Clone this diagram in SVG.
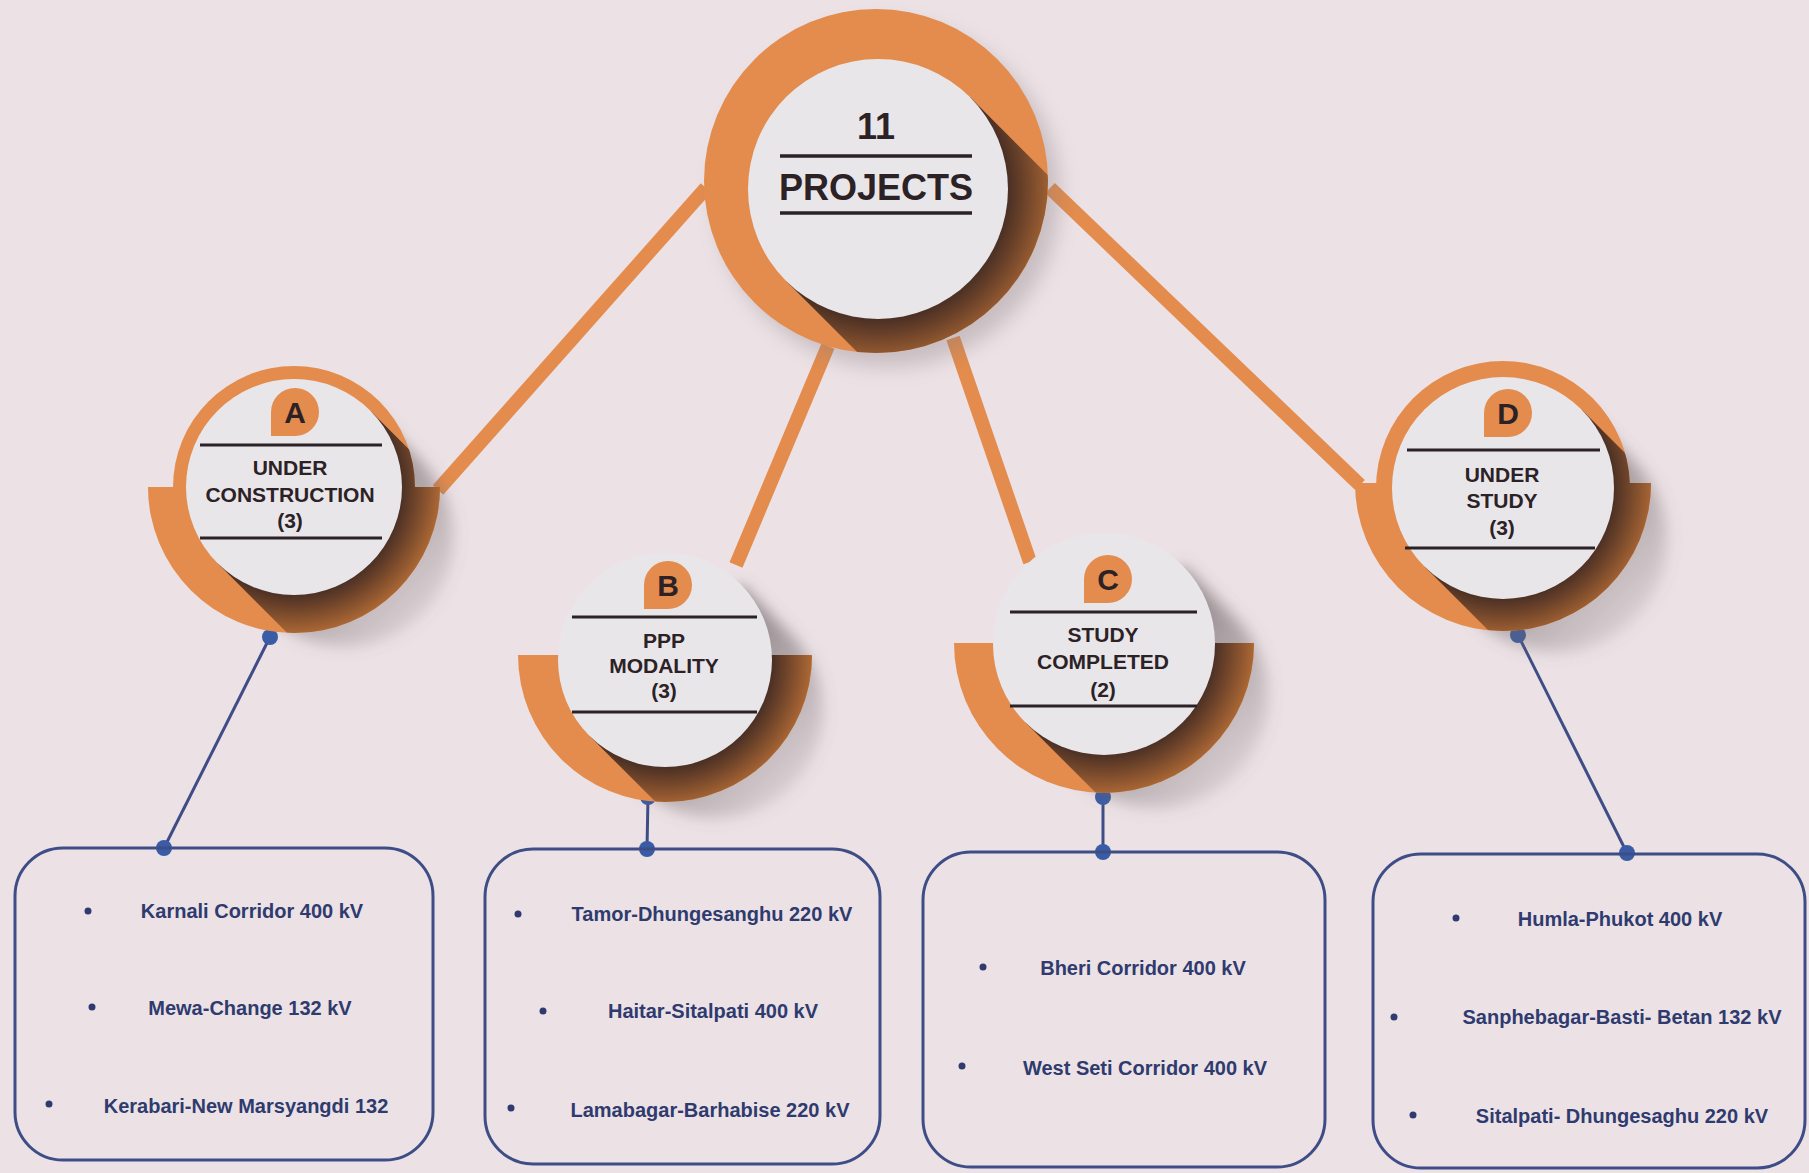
<svg xmlns="http://www.w3.org/2000/svg" xmlns:xlink="http://www.w3.org/1999/xlink" width="1809" height="1173" viewBox="0 0 1809 1173">
<style>
.org{fill:#e38c4d}
.disc{fill:#e9e6ea}
.rule{stroke:#2c2226;stroke-width:3}
.lbl{font-family:"Liberation Sans",Arial,sans-serif;font-weight:bold;fill:#2c2226;text-anchor:middle;font-size:21px}
.big{font-family:"Liberation Sans",Arial,sans-serif;font-weight:bold;fill:#2c2226;text-anchor:middle;font-size:36px}
.let{font-family:"Liberation Sans",Arial,sans-serif;font-weight:bold;fill:#2c2226;text-anchor:middle;font-size:30px}
.item{font-family:"Liberation Sans",Arial,sans-serif;font-weight:bold;fill:#2f3b6e;text-anchor:middle;font-size:20px}
.bul{fill:#2f3b6e}
.box{fill:none;stroke:#3e4d86;stroke-width:3}
.oline{stroke:#e38c4d;stroke-width:14;fill:none}
.bline{stroke:#3e4d86;stroke-width:3;fill:none}
.dot{fill:#3a5ca6}
.gsh{fill:url(#gsh);filter:url(#blur)}
.bsh{fill:url(#rsh)}
</style>
<defs>
<filter id="blur" x="-30%" y="-30%" width="160%" height="160%"><feGaussianBlur stdDeviation="7"/></filter>
<filter id="blur2" x="-30%" y="-30%" width="160%" height="160%"><feGaussianBlur stdDeviation="10"/></filter>
<linearGradient id="gsh" x1="0" y1="0" x2="1" y2="1"><stop offset="0.4" stop-color="#6e6466" stop-opacity="0.7"/><stop offset="1" stop-color="#6e6466" stop-opacity="0"/></linearGradient>
<radialGradient id="rsh" cx="0.5" cy="0.5" r="0.5"><stop offset="0.7" stop-color="#452d24"/><stop offset="0.8" stop-color="#6a4129"/><stop offset="1" stop-color="#b56d36"/></radialGradient>
<path id="capL" d="M70.71,-70.71 L210.71,69.29 A100,100 0 0 1 69.29,210.71 L-70.71,70.71 Z"/>
<path id="capS" d="M70.71,-70.71 L118.71,-22.71 A100,100 0 0 1 -22.71,118.71 L-70.71,70.71 Z"/>
<clipPath id="cP"><circle cx="-2" cy="-8" r="172"/></clipPath>
<clipPath id="kP"><use href="#capL" transform="scale(1.3)"/></clipPath>
<clipPath id="cA"><circle r="121"/><path d="M-146,0 A146,146 0 0 0 146,0 Z"/></clipPath>
<clipPath id="kA"><use href="#capL" transform="scale(1.08)"/></clipPath>
<clipPath id="cB"><path d="M-147,-5 A147,147 0 0 0 147,-5 Z"/></clipPath>
<clipPath id="kB"><use href="#capL" transform="scale(1.07)"/></clipPath>
<clipPath id="cC"><path d="M-150,-1 A150,150 0 0 0 150,-1 Z"/></clipPath>
<clipPath id="kC"><use href="#capL" transform="scale(1.11)"/></clipPath>
<clipPath id="cD"><circle r="127"/><path d="M-148,-5 A148,148 0 0 0 148,-5 Z"/></clipPath>
<clipPath id="kD"><use href="#capL" transform="scale(1.11)"/></clipPath>
</defs>
<rect width="1809" height="1173" fill="#ece2e6"/>

<g id="connectors">
<line class="oline" x1="706" y1="188" x2="438" y2="490"/>
<line class="oline" x1="828" y1="346" x2="736" y2="565"/>
<line class="oline" x1="953" y1="338" x2="1030" y2="562"/>
<line class="oline" x1="1050" y1="188" x2="1360" y2="485"/>
<line class="bline" x1="270" y1="637" x2="164" y2="848"/>
<line class="bline" x1="648" y1="797" x2="647" y2="849"/>
<line class="bline" x1="1103" y1="797" x2="1103" y2="852"/>
<line class="bline" x1="1518" y1="635" x2="1627" y2="853"/>
<circle class="dot" cx="270" cy="637" r="8"/>
<circle class="dot" cx="164" cy="848" r="8"/>
<circle class="dot" cx="648" cy="797" r="8"/>
<circle class="dot" cx="647" cy="849" r="8"/>
<circle class="dot" cx="1103" cy="797" r="8"/>
<circle class="dot" cx="1103" cy="852" r="8"/>
<circle class="dot" cx="1518" cy="635" r="8"/>
<circle class="dot" cx="1627" cy="853" r="8"/>
</g>

<g id="node-projects">
<g transform="translate(878,189)">
<circle cx="10" cy="6" r="172" fill="#857a7c" opacity="0.35" filter="url(#blur2)"/>
<circle class="org" cx="-2" cy="-8" r="172"/>
<g clip-path="url(#cP)"><g clip-path="url(#kP)"><circle r="182" class="bsh"/></g></g>
<circle class="disc" r="130"/>
</g>
<text class="big" x="876" y="139">11</text>
<line class="rule" x1="780" y1="156" x2="972" y2="156" style="stroke-width:3.5"/>
<text class="big" x="876" y="200">PROJECTS</text>
<line class="rule" x1="780" y1="213" x2="972" y2="213" style="stroke-width:3.5"/>
</g>

<g id="node-a">
<g transform="translate(294,487)">
<use href="#capS" class="gsh" transform="scale(1.08)"/>
<circle class="org" r="121"/>
<path class="org" d="M-146,0 A146,146 0 0 0 146,0 Z"/>
<g clip-path="url(#cA)"><g clip-path="url(#kA)"><circle r="150" class="bsh"/></g></g>
<circle class="disc" r="108"/>
</g>
<path class="org" d="M271,412 A24,24 0 1 1 295,436 L271,436 Z"/>
<text class="let" x="295" y="423">A</text>
<line class="rule" x1="200" y1="445" x2="382" y2="445"/>
<text class="lbl" x="290" y="475">UNDER</text>
<text class="lbl" x="290" y="502">CONSTRUCTION</text>
<text class="lbl" x="290" y="528">(3)</text>
<line class="rule" x1="200" y1="538" x2="382" y2="538"/>
</g>

<g id="node-b">
<g transform="translate(665,660)">
<use href="#capS" class="gsh" transform="scale(1.07)"/>
<path class="org" d="M-147,-5 A147,147 0 0 0 147,-5 Z"/>
<g clip-path="url(#cB)"><g clip-path="url(#kB)"><circle r="150" class="bsh"/></g></g>
<circle class="disc" r="107"/>
</g>
<path class="org" d="M644,585 A24,24 0 1 1 668,609 L644,609 Z"/>
<text class="let" x="668" y="596">B</text>
<line class="rule" x1="572" y1="617" x2="757" y2="617"/>
<text class="lbl" x="664" y="648">PPP</text>
<text class="lbl" x="664" y="673">MODALITY</text>
<text class="lbl" x="664" y="698">(3)</text>
<line class="rule" x1="572" y1="712" x2="757" y2="712"/>
</g>

<g id="node-c">
<g transform="translate(1104,644)">
<use href="#capS" class="gsh" transform="scale(1.11)"/>
<path class="org" d="M-150,-1 A150,150 0 0 0 150,-1 Z"/>
<g clip-path="url(#cC)"><g clip-path="url(#kC)"><circle r="154" class="bsh"/></g></g>
<circle class="disc" r="111"/>
</g>
<path class="org" d="M1084,579 A24,24 0 1 1 1108,603 L1084,603 Z"/>
<text class="let" x="1108" y="590">C</text>
<line class="rule" x1="1010" y1="612" x2="1197" y2="612"/>
<text class="lbl" x="1103" y="642">STUDY</text>
<text class="lbl" x="1103" y="669">COMPLETED</text>
<text class="lbl" x="1103" y="697">(2)</text>
<line class="rule" x1="1010" y1="706" x2="1197" y2="706"/>
</g>

<g id="node-d">
<g transform="translate(1503,488)">
<use href="#capS" class="gsh" transform="scale(1.11)"/>
<circle class="org" r="127"/>
<path class="org" d="M-148,-5 A148,148 0 0 0 148,-5 Z"/>
<g clip-path="url(#cD)"><g clip-path="url(#kD)"><circle r="154" class="bsh"/></g></g>
<circle class="disc" r="111"/>
</g>
<path class="org" d="M1484,413 A24,24 0 1 1 1508,437 L1484,437 Z"/>
<text class="let" x="1508" y="424">D</text>
<line class="rule" x1="1407" y1="450" x2="1600" y2="450"/>
<text class="lbl" x="1502" y="482">UNDER</text>
<text class="lbl" x="1502" y="508">STUDY</text>
<text class="lbl" x="1502" y="535">(3)</text>
<line class="rule" x1="1405" y1="548" x2="1595" y2="548"/>
</g>

<g id="box-a">
<rect class="box" x="15" y="848" width="418" height="312" rx="48"/>
<circle class="bul" cx="88" cy="911" r="3.5"/>
<text class="item" x="252" y="918">Karnali Corridor 400 kV</text>
<circle class="bul" cx="92" cy="1007" r="3.5"/>
<text class="item" x="250" y="1015">Mewa-Change 132 kV</text>
<circle class="bul" cx="49" cy="1104" r="3.5"/>
<text class="item" x="246" y="1113">Kerabari-New Marsyangdi 132</text>
</g>

<g id="box-b">
<rect class="box" x="485" y="849" width="395" height="315" rx="48"/>
<circle class="bul" cx="518" cy="914" r="3.5"/>
<text class="item" x="712" y="921">Tamor-Dhungesanghu 220 kV</text>
<circle class="bul" cx="543" cy="1011" r="3.5"/>
<text class="item" x="713" y="1018">Haitar-Sitalpati 400 kV</text>
<circle class="bul" cx="511" cy="1108" r="3.5"/>
<text class="item" x="710" y="1117">Lamabagar-Barhabise 220 kV</text>
</g>

<g id="box-c">
<rect class="box" x="923" y="852" width="402" height="315" rx="48"/>
<circle class="bul" cx="983" cy="967" r="3.5"/>
<text class="item" x="1143" y="975">Bheri Corridor 400 kV</text>
<circle class="bul" cx="962" cy="1066" r="3.5"/>
<text class="item" x="1145" y="1075">West Seti Corridor 400 kV</text>
</g>

<g id="box-d">
<rect class="box" x="1373" y="854" width="432" height="314" rx="48"/>
<circle class="bul" cx="1456" cy="918" r="3.5"/>
<text class="item" x="1620" y="926">Humla-Phukot 400 kV</text>
<circle class="bul" cx="1394" cy="1017" r="3.5"/>
<text class="item" x="1622" y="1024">Sanphebagar-Basti- Betan 132 kV</text>
<circle class="bul" cx="1413" cy="1115" r="3.5"/>
<text class="item" x="1622" y="1123">Sitalpati- Dhungesaghu 220 kV</text>
</g>
</svg>
